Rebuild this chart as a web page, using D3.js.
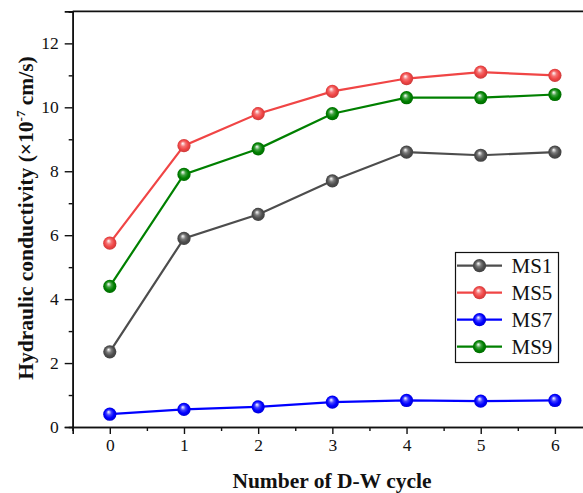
<!DOCTYPE html>
<html>
<head>
<meta charset="utf-8">
<script src="https://cdn.jsdelivr.net/npm/d3@7"></script>
<style>
  html, body { margin: 0; padding: 0; background: #fff; }
  svg { display: block; overflow: hidden; }
</style>
</head>
<body>
<div id="chart"></div>
<script>
// data
const cycles = [0, 1, 2, 3, 4, 5, 6];
const ms1 = [2.35, 5.9, 6.65, 7.7, 8.6, 8.5, 8.6];
const ms5 = [5.75, 8.8, 9.8, 10.5, 10.9, 11.1, 11.0];
const ms7 = [0.4, 0.55, 0.63, 0.78, 0.83, 0.81, 0.83];
const ms9 = [4.4, 7.9, 8.7, 9.8, 10.3, 10.3, 10.4];
const seriesNames = ["MS1", "MS5", "MS7", "MS9"];
const yTicks = [0, 2, 4, 6, 8, 10, 12];

const seriesColors = ["#4d4d4d", "#f04545", "#0000ff", "#008000"];
const series = [ms1, ms5, ms7, ms9].map((vals, i) => ({
    name: seriesNames[i],
    color: seriesColors[i],
    values: vals.map((v, j) => ({ x: cycles[j], y: v }))
}));

const width = 583, height = 493;
const svg = d3.select('#chart').append('svg')
    .attr('width', width)
    .attr('height', height);

// 比例尺 (right part of the frame is cut off in the original)
const x = d3.scaleLinear().domain([-0.5, 6.5]).range([72.7, 592]);
const y = d3.scaleLinear().domain([0, 13]).range([427, 11.4]);

// sphere-like gradients for markers
const defs = svg.append('defs');
series.forEach((s, i) => {
    const g = defs.append('radialGradient')
        .attr('id', 'ball' + i)
        .attr('cx', '50%').attr('cy', '50%').attr('r', '55%')
        .attr('fx', '40%').attr('fy', '32%');
    g.append('stop').attr('offset', '0%').attr('stop-color', '#ffffff');
    g.append('stop').attr('offset', '35%').attr('stop-color', d3.interpolateRgb('#ffffff', s.color)(0.75));
    g.append('stop').attr('offset', '65%').attr('stop-color', s.color);
    g.append('stop').attr('offset', '100%').attr('stop-color', d3.color(s.color).darker(0.6));
});

const font = "'Liberation Serif', 'Times New Roman', serif";

// 坐标轴
const xAxis = svg.append('g')
    .attr('transform', `translate(0,${y(0)})`)
    .call(d3.axisBottom(x).tickValues(cycles).tickSize(7).tickPadding(5).tickFormat(d3.format('d')));
const xMinor = svg.append('g')
    .attr('transform', `translate(0,${y(0)})`)
    .call(d3.axisBottom(x).tickValues([-0.5, 0.5, 1.5, 2.5, 3.5, 4.5, 5.5]).tickSize(4).tickFormat(''));

const yAxis = svg.append('g')
    .attr('transform', `translate(${x(-0.5)},0)`)
    .call(d3.axisLeft(y).tickValues(yTicks).tickSize(8).tickPadding(6));
const yMinor = svg.append('g')
    .attr('transform', `translate(${x(-0.5)},0)`)
    .call(d3.axisLeft(y).tickValues([1, 3, 5, 7, 9, 11, 13]).tickSize(4).tickFormat(''));

[xAxis, xMinor, yAxis, yMinor].forEach(g => {
    g.select('.domain').attr('stroke', '#111').attr('stroke-width', 1.6);
    g.selectAll('.tick line').attr('stroke', '#111').attr('stroke-width', 1.4);
    g.selectAll('.tick text')
        .attr('fill', '#111')
        .style('font-family', font)
        .style('font-size', '17.5px');
});

// top frame line
svg.append('line')
    .attr('x1', x(-0.5)).attr('x2', width)
    .attr('y1', y(13)).attr('y2', y(13))
    .attr('stroke', '#111').attr('stroke-width', 1.6);

// 轴标题
svg.append('text')
    .attr('x', 332)
    .attr('y', 488)
    .attr('text-anchor', 'middle')
    .style('font-family', font)
    .style('font-weight', 'bold')
    .style('font-size', '21.5px')
    .attr('fill', '#111')
    .text('Number of D-W cycle');

const yLabel = svg.append('text')
    .attr('transform', 'translate(33,218) rotate(-90)')
    .attr('text-anchor', 'middle')
    .style('font-family', font)
    .style('font-weight', 'bold')
    .style('font-size', '21.5px')
    .attr('fill', '#111');
yLabel.append('tspan').text('Hydraulic conductivity (×10');
yLabel.append('tspan').attr('dy', -8).style('font-size', '13px').text('-7');
yLabel.append('tspan').attr('dy', 8).text(' cm/s)');

// 折线
const line = d3.line().x(d => x(d.x)).y(d => y(d.y));

const plot = svg.append('g');
series.forEach((s, i) => {
    plot.append('path')
        .datum(s.values)
        .attr('fill', 'none')
        .attr('stroke', s.color)
        .attr('stroke-width', 2.2)
        .attr('d', line);
    plot.selectAll('circle.m' + i)
        .data(s.values)
        .join('circle')
        .attr('class', 'm' + i)
        .attr('cx', d => x(d.x))
        .attr('cy', d => y(d.y))
        .attr('r', 6.6)
        .attr('fill', `url(#ball${i})`);
});

// 图例
const legend = svg.append('g');
legend.append('rect')
    .attr('x', 455.5).attr('y', 252.5)
    .attr('width', 103).attr('height', 110)
    .attr('fill', '#fff')
    .attr('stroke', '#111')
    .attr('stroke-width', 1.2);

series.forEach((s, i) => {
    const ly = 265.7 + i * 27;
    legend.append('line')
        .attr('x1', 457).attr('x2', 502)
        .attr('y1', ly).attr('y2', ly)
        .attr('stroke', s.color).attr('stroke-width', 2.2);
    legend.append('circle')
        .attr('cx', 479.5).attr('cy', ly)
        .attr('r', 6.6)
        .attr('fill', `url(#ball${i})`);
    legend.append('text')
        .attr('x', 511.5).attr('y', ly + 7.5)
        .style('font-family', font)
        .style('font-size', '21px')
        .attr('fill', '#111')
        .text(s.name);
});
</script>
</body>
</html>
